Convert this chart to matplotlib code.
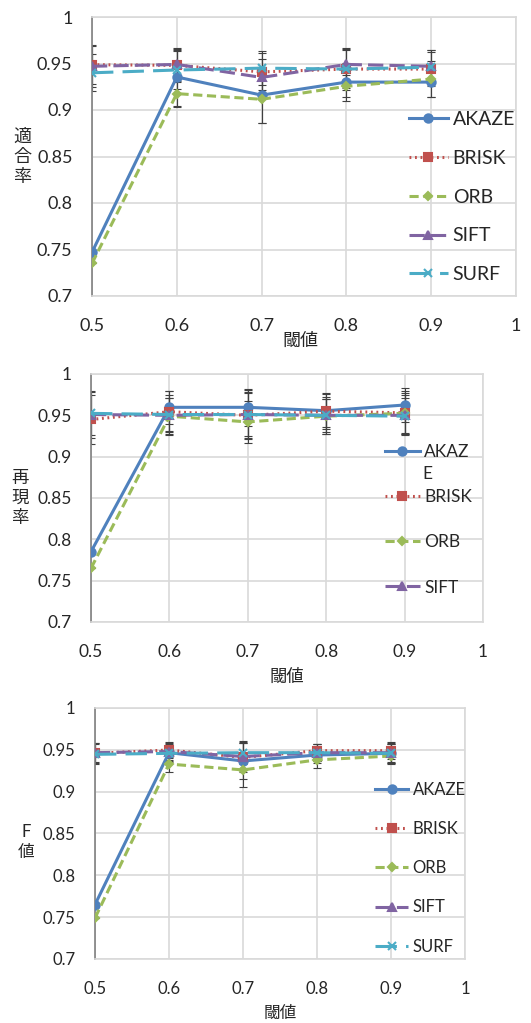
import matplotlib
matplotlib.use("Agg")
import matplotlib.pyplot as plt
import numpy as np

plt.rcParams['font.family'] = ['Lato', 'Noto Sans CJK JP']

# data
thresholds = [0.5, 0.6, 0.7, 0.8, 0.9]
methods = ["AKAZE", "BRISK", "ORB", "SIFT", "SURF"]

# 適合率 (precision)
prec = {
    "AKAZE": [0.747, 0.9355, 0.916, 0.930, 0.930],
    "BRISK": [0.9487, 0.948, 0.941, 0.944, 0.944],
    "ORB":   [0.735, 0.9176, 0.9115, 0.9255, 0.9333],
    "SIFT":  [0.947, 0.949, 0.935, 0.949, 0.947],
    "SURF":  [0.940, 0.943, 0.945, 0.944, 0.946],
}
prec_err = {
    "AKAZE": [0.0, 0.031, 0.030, 0.020, 0.016],
    "BRISK": [0.021, 0.018, 0.020, 0.022, 0.018],
    "ORB":   [0.0, 0.014, 0.026, 0.012, 0.019],
    "SIFT":  [0.022, 0.016, 0.020, 0.018, 0.018],
    "SURF":  [0.020, 0.020, 0.018, 0.020, 0.018],
}

# 再現率 (recall)
rec = {
    "AKAZE": [0.785, 0.9597, 0.9597, 0.9556, 0.9625],
    "BRISK": [0.945, 0.9544, 0.950, 0.955, 0.953],
    "ORB":   [0.765, 0.949, 0.942, 0.949, 0.9525],
    "SIFT":  [0.951, 0.950, 0.951, 0.950, 0.950],
    "SURF":  [0.9524, 0.951, 0.951, 0.950, 0.949],
}
rec_err = {
    "AKAZE": [0.0, 0.020, 0.022, 0.020, 0.020],
    "BRISK": [0.030, 0.025, 0.028, 0.022, 0.026],
    "ORB":   [0.0, 0.022, 0.025, 0.021, 0.024],
    "SIFT":  [0.028, 0.024, 0.030, 0.022, 0.024],
    "SURF":  [0.026, 0.020, 0.026, 0.020, 0.022],
}

# F値 (F-measure)
fval = {
    "AKAZE": [0.765, 0.9466, 0.9367, 0.9438, 0.9458],
    "BRISK": [0.9458, 0.9498, 0.941, 0.949, 0.949],
    "ORB":   [0.749, 0.933, 0.926, 0.938, 0.9426],
    "SIFT":  [0.9466, 0.948, 0.942, 0.9466, 0.9466],
    "SURF":  [0.9446, 0.9458, 0.9466, 0.9466, 0.9458],
}
fval_err = {
    "AKAZE": [0.0, 0.010, 0.022, 0.010, 0.011],
    "BRISK": [0.012, 0.010, 0.018, 0.008, 0.010],
    "ORB":   [0.0, 0.009, 0.020, 0.010, 0.010],
    "SIFT":  [0.011, 0.010, 0.016, 0.010, 0.011],
    "SURF":  [0.012, 0.010, 0.014, 0.010, 0.011],
}

colors = {"AKAZE": "#4F81BD", "BRISK": "#C0504D", "ORB": "#9BBB59",
          "SIFT": "#8064A2", "SURF": "#4BACC6"}
styles = {"AKAZE": dict(ls="-", marker="o", ms=6),
          "BRISK": dict(ls=(0, (0.6, 1.2)), marker="s", ms=6),
          "ORB":   dict(ls=(0, (3, 1.5)), marker="D", ms=4.5),
          "SIFT":  dict(ls=(0, (5, 2)), marker="^", ms=6),
          "SURF":  dict(ls=(0, (7, 3)), marker="x", ms=6)}

W, H = 531, 1023
fig = plt.figure(figsize=(W / 100, H / 100), dpi=100)


def box(x0, x1, y0, y1):
    return [x0 / W, 1 - y1 / H, (x1 - x0) / W, (y1 - y0) / H]


def panel(rect, data, err, ylab, ylab_xy, xlab_xy, fs, leg_xy, leg_sp,
          leg_fs, leg_labels):
    ax = fig.add_axes(rect)
    handles = []
    for m in methods:
        ax.errorbar(thresholds, data[m], yerr=err[m], fmt="none",
                    ecolor="#404040", elinewidth=0.8, capsize=3,
                    capthick=0.8, zorder=2)
    for m in methods:
        st = styles[m]
        ln, = ax.plot(thresholds, data[m], color=colors[m], lw=2.2,
                      ls=st["ls"], marker=st["marker"], ms=st["ms"],
                      mec=colors[m], mew=1.5, label=m, zorder=3)
        handles.append(ln)
    ax.set_xlim(0.5, 1.0)
    ax.set_ylim(0.7, 1.0)
    ax.set_xticks([0.5, 0.6, 0.7, 0.8, 0.9, 1.0])
    ax.set_xticklabels(["0.5", "0.6", "0.7", "0.8", "0.9", "1"])
    ax.set_yticks([0.7, 0.75, 0.8, 0.85, 0.9, 0.95, 1.0])
    ax.set_yticklabels(["0.7", "0.75", "0.8", "0.85", "0.9", "0.95", "1"])
    ax.tick_params(length=0, labelsize=fs, colors="#262626")
    ax.tick_params(axis="y", pad=14)
    ax.tick_params(axis="x", pad=16)
    ax.grid(True, color="#D9D9D9", lw=1.2, zorder=0)
    for s in ["top", "right", "bottom"]:
        ax.spines[s].set_color("#D9D9D9")
        ax.spines[s].set_linewidth(1.2)
    ax.spines["left"].set_color("#808080")
    ax.spines["left"].set_linewidth(1.2)
    ax.set_axisbelow(True)
    fig.text(ylab_xy[0] / W, 1 - ylab_xy[1] / H, ylab, ha="center",
             va="center", fontsize=fs, linespacing=1.3, color="#262626")
    fig.text(xlab_xy[0] / W, 1 - xlab_xy[1] / H, "閾値", ha="center",
             va="center", fontsize=fs, color="#262626")
    sel = handles[:len(leg_labels)]
    ax.legend(sel, leg_labels, loc="upper left",
              bbox_to_anchor=(leg_xy[0] / W, 1 - leg_xy[1] / H),
              bbox_transform=fig.transFigure, frameon=False,
              fontsize=leg_fs, borderpad=0, borderaxespad=0,
              handlelength=2.0, handletextpad=0.25,
              labelspacing=leg_sp, labelcolor="#262626")
    return ax


panel(box(92, 516, 17, 296), prec, prec_err, "適\n合\n率", (22, 157),
      (300, 341), 13, (409, 111), 1.12, 14, methods)

# second panel: the AKAZE label wraps and the SURF entry is cut off
panel(box(91, 483, 374, 622), rec, rec_err, "再\n現\n率", (20, 498),
      (287, 677), 12.5, (385, 444), 1.68, 12.5,
      ["AKAZ", "BRISK", "ORB", "SIFT"])
fig.text(422 / W, 1 - 474 / H, "E", ha="left", va="center", fontsize=12.5,
         color="#262626")

panel(box(95, 465, 708, 959), fval, fval_err, "F\n値", (26, 842),
      (280, 1013), 12, (375, 782), 1.39, 12, methods)

fig.savefig("out.png", dpi=100)
